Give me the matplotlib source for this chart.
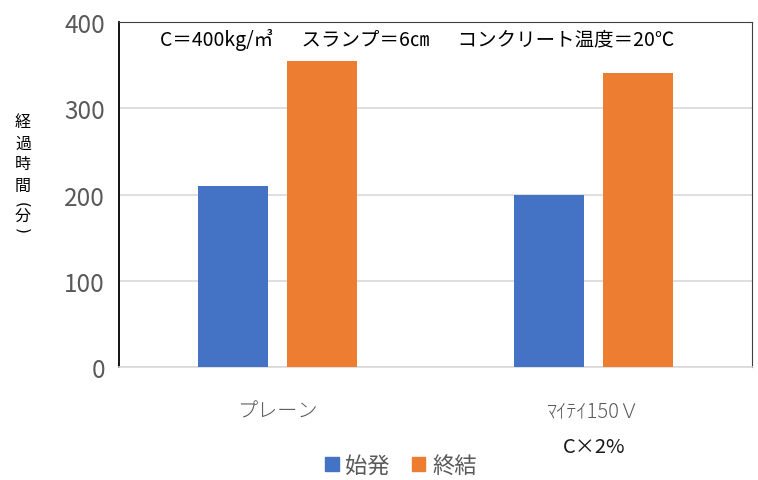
import numpy as np
import matplotlib.pyplot as plt
from matplotlib.patches import Patch

plt.rcParams['font.family'] = ['Noto Sans CJK JP', 'DejaVu Sans']

categories = ["プレーン", "ﾏｲﾃｲ150Ｖ"]
sub_labels = ["", "C×2%"]
series_names = ["始発", "終結"]
initial_set = [210, 200]
final_set = [355, 340]
colors = ["#4472C4", "#ED7D31"]
note = "C＝400kg/㎥　  スランプ＝6㎝　  コンクリート温度＝20℃"
ylabel_chars = ["経", "過", "時", "間", "(", "分", ")"]

fig = plt.figure(figsize=(7.58, 4.81), dpi=100)
ax = fig.add_axes([0.157, 0.234, 0.835, 0.719])

x = np.arange(len(categories))
w = 0.221
off = 0.141
ax.bar(x - off, initial_set, w, color=colors[0], zorder=3)
ax.bar(x + off, final_set, w, color=colors[1], zorder=3)

ax.set_xlim(-0.5, 1.5)
ax.set_ylim(0, 400)
ax.set_yticks([0, 100, 200, 300, 400])
ax.yaxis.grid(True, color="#d9d9d9", linewidth=1.2, zorder=0)
ax.tick_params(axis="y", length=0, labelsize=17.5, labelcolor="#595959", pad=10)
ax.tick_params(axis="x", length=0, labelsize=14.5, labelcolor="#595959", pad=24)
ax.set_xticks(x)
ax.set_xticklabels(categories, fontweight="light")

ax.spines["left"].set_color("black")
ax.spines["left"].set_linewidth(1.3)
ax.spines["top"].set_color("#404040")
ax.spines["right"].set_color("#404040")
ax.spines["bottom"].set_color("#d9d9d9")
ax.spines["bottom"].set_linewidth(1.2)

for i, s in enumerate(sub_labels):
    if s:
        ax.text(x[i], -0.23, s, transform=ax.get_xaxis_transform(),
                ha="center", va="center", fontsize=14.5, color="#1a1a1a")

fig.text(417 / 758, 1 - 40 / 481, note, ha="center", va="center",
         fontsize=14, color="black")

# vertical y label, brackets turned for vertical writing
ys = [123, 144, 165, 186, 205, 217, 231]
for ch, yy in zip(ylabel_chars, ys):
    if ch in "()":
        fig.text(22 / 758, 1 - yy / 481, ch, ha="center", va="center",
                 fontsize=11, color="black", rotation=-90, family=["DejaVu Sans"])
    else:
        fig.text(23 / 758, 1 - yy / 481, ch, ha="center", va="center",
                 fontsize=11.5, color="black")

handles = [Patch(color=c) for c in colors]
fig.legend(handles, series_names, loc="center", bbox_to_anchor=(401 / 758, 1 - 466 / 481),
           ncol=2, frameon=False, fontsize=16, handlelength=0.6, handleheight=0.6,
           handletextpad=0.3, columnspacing=1.0, labelcolor="#595959")

fig.savefig("out.png", dpi=100)
